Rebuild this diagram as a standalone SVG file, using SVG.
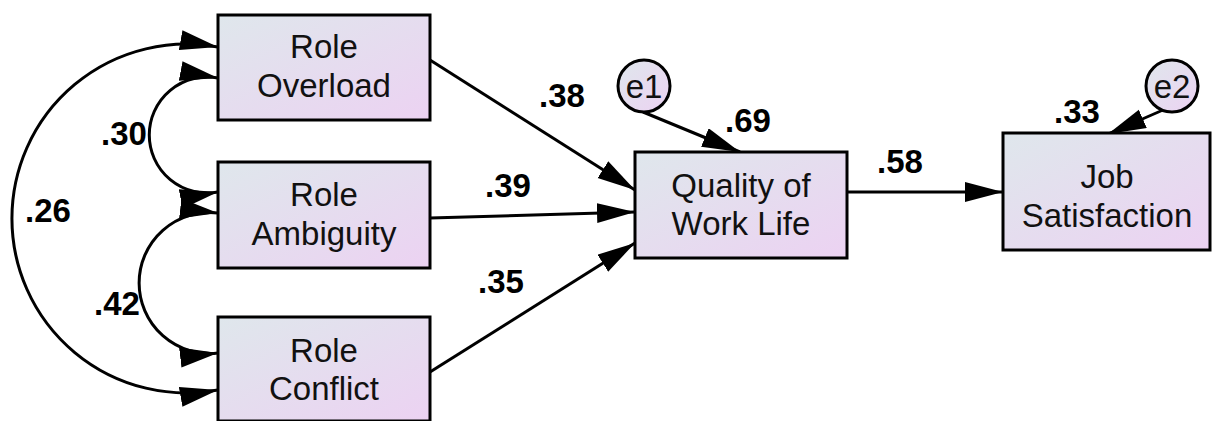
<svg xmlns="http://www.w3.org/2000/svg" width="1212" height="421" viewBox="0 0 1212 421">
<defs>
<linearGradient id="g" x1="0" y1="0" x2="1" y2="1">
<stop offset="0" stop-color="#dfe7ec"/>
<stop offset="1" stop-color="#ecd2f2"/>
</linearGradient>
<marker id="ah" markerUnits="userSpaceOnUse" markerWidth="40" markerHeight="22" refX="38" refY="10" orient="auto-start-reverse" viewBox="0 0 40 22">
<path d="M0,0 L38,10 L0,20 Z" fill="#000"/>
</marker>
<style>
.box{fill:url(#g);stroke:#000;stroke-width:3}
.t{font-family:"Liberation Sans",Arial,sans-serif;font-size:33px;text-anchor:middle;fill:#111}
.n{font-family:"Liberation Sans",Arial,sans-serif;font-size:33px;font-weight:bold;text-anchor:middle;fill:#000}
.c{fill:none;stroke:#000;stroke-width:3}
</style>
</defs>
<rect width="1212" height="421" fill="#fff"/>
<g id="connectors">
<path class="c" d="M218,192 A58,58 0 1 1 218,78" marker-start="url(#ah)" marker-end="url(#ah)"/>
<path class="c" d="M218,353 A70.5,70.5 0 1 1 218,213" marker-start="url(#ah)" marker-end="url(#ah)"/>
<path class="c" d="M218,390 A174.4,174.4 0 1 1 218,47" marker-start="url(#ah)" marker-end="url(#ah)"/>
<path class="c" d="M430,60 L635,190" marker-end="url(#ah)"/>
<path class="c" d="M430,218 L635,212" marker-end="url(#ah)"/>
<path class="c" d="M430,372 L635,243" marker-end="url(#ah)"/>
<path class="c" d="M847,192 L1003,192" marker-end="url(#ah)"/>
<path class="c" d="M643,112 L740,152" marker-end="url(#ah)"/>
<path class="c" d="M1163,110 L1108,134" marker-end="url(#ah)"/>
</g>
<g id="labels">
<text class="n" x="562" y="107">.38</text>
<text class="n" x="508" y="197">.39</text>
<text class="n" x="501" y="293">.35</text>
<text class="n" x="748" y="132">.69</text>
<text class="n" x="900" y="173">.58</text>
<text class="n" x="1077" y="123">.33</text>
<text class="n" x="124" y="145">.30</text>
<text class="n" x="48" y="222">.26</text>
<text class="n" x="117" y="315">.42</text>
</g>
<g id="role-overload">
<rect class="box" x="218" y="15" width="212" height="105"/>
<text class="t" x="324" y="58">Role</text>
<text class="t" x="324" y="97">Overload</text>
</g>
<g id="role-ambiguity">
<rect class="box" x="218" y="162" width="212" height="106"/>
<text class="t" x="324" y="206">Role</text>
<text class="t" x="324" y="245">Ambiguity</text>
</g>
<g id="role-conflict">
<rect class="box" x="218" y="317" width="212" height="104"/>
<text class="t" x="324" y="362">Role</text>
<text class="t" x="324" y="400">Conflict</text>
</g>
<g id="qwl">
<rect class="box" x="635" y="152" width="212" height="106"/>
<text class="t" x="741" y="197">Quality of</text>
<text class="t" x="741" y="235">Work Life</text>
</g>
<g id="job-satisfaction">
<rect class="box" x="1003" y="133" width="207" height="117"/>
<text class="t" x="1107" y="188">Job</text>
<text class="t" x="1107" y="227">Satisfaction</text>
</g>
<g id="e1">
<circle class="box" cx="644" cy="86" r="26"/>
<text class="t" x="644" y="98">e1</text>
</g>
<g id="e2">
<circle class="box" cx="1172" cy="86" r="26"/>
<text class="t" x="1172" y="98">e2</text>
</g>
</svg>
